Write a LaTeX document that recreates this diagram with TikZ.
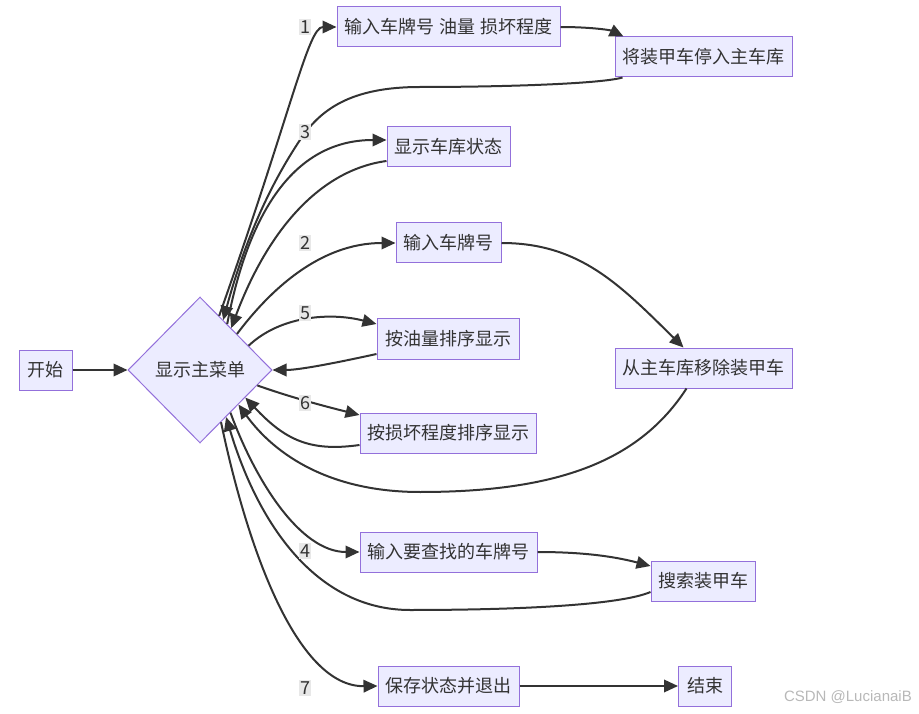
\documentclass[tikz,border=0pt]{standalone}
\usepackage{fontspec}
\setmainfont{Noto Sans CJK SC}
\newfontfamily\wmfont{Liberation Sans}
\usetikzlibrary{shapes.geometric,arrows.meta,calc}
\definecolor{boxfill}{HTML}{ECECFF}
\definecolor{boxline}{HTML}{9370DB}
\definecolor{ink}{HTML}{333333}
\definecolor{lblbg}{HTML}{E8E8E8}
\begin{document}
\begin{tikzpicture}[x=1pt,y=-1pt,
  box/.style={draw=boxline, fill=boxfill, line width=1pt, minimum height=40pt, inner sep=0pt, text=ink, font=\fontsize{18}{21}\selectfont},
  decide/.style={diamond, draw=boxline, fill=boxfill, line width=1pt, minimum width=144pt, minimum height=146pt, inner sep=0pt, text=ink, font=\fontsize{18}{21}\selectfont},
  arr/.style={draw=ink, line width=2pt, -{Triangle[length=14pt,width=12.5pt]}},
  lbl/.style={fill=lblbg, text=ink, inner sep=1.5pt, font=\fontsize{18}{20}\selectfont}]
\useasboundingbox (0,0) rectangle (919,714);

% nodes
\node[box, minimum width=53pt] (start) at (45.5,370) {开始};
\node[decide] (menu) at (200,370) {显示主菜单};
\node[box, minimum width=223pt] (inpA) at (448.5,27) {输入车牌号\hspace{0.3em}油量\hspace{0.3em}损坏程度};
\node[box, minimum width=177pt] (park) at (703.5,57) {将装甲车停入主车库};
\node[box, minimum width=123pt] (status) at (448.5,147) {显示车库状态};
\node[box, minimum width=105pt] (inpB) at (448.5,243) {输入车牌号};
\node[box, minimum width=142pt] (oil) at (448,339) {按油量排序显示};
\node[box, minimum width=176pt] (dmg) at (448,433) {按损坏程度排序显示};
\node[box, minimum width=177pt] (remove) at (703.5,368) {从主车库移除装甲车};
\node[box, minimum width=177pt] (inpC) at (448.5,552) {输入要查找的车牌号};
\node[box, minimum width=104pt] (search) at (703,581) {搜索装甲车};
\node[box, minimum width=141pt] (save) at (448.5,686) {保存状态并退出};
\node[box, minimum width=53pt] (finish) at (705,686) {结束};

% attachment points on the diamond
\coordinate (u1) at ($(menu.north)!0.264!(menu.east)$);
\coordinate (u2) at ($(menu.north)!0.32!(menu.east)$);
\coordinate (u3) at ($(menu.north)!0.375!(menu.east)$);
\coordinate (u4) at ($(menu.north)!0.43!(menu.east)$);
\coordinate (u5) at ($(menu.north)!0.51!(menu.east)$);
\coordinate (u6) at ($(menu.north)!0.67!(menu.east)$);
\coordinate (d1) at ($(menu.east)!0.21!(menu.south)$);
\coordinate (d2) at ($(menu.east)!0.375!(menu.south)$);
\coordinate (d3) at ($(menu.east)!0.47!(menu.south)$);
\coordinate (d4) at ($(menu.east)!0.58!(menu.south)$);
\coordinate (d5) at ($(menu.east)!0.64!(menu.south)$);
\coordinate (d6) at ($(menu.east)!0.71!(menu.south)$);

% connectors
\draw[arr] (start.east) -- (menu.west);
\draw[arr] (u1) .. controls (292,110) and (308,27) .. (inpA.west);
\draw[arr] (inpA.east) .. controls (590,27) and (610,30) .. ([xshift=9pt]park.north west);
\draw[arr] ([xshift=8pt]park.south west) .. controls (600,84) and (500,87) .. (420,87)
   .. controls (350,87) and (320,110) .. (300,140)
   .. controls (270,185) and (245,240) .. (u2);
\draw[arr] (u3) .. controls (245,230) and (285,140) .. ([yshift=7pt]status.west);
\draw[arr] ([yshift=-14pt]status.west) .. controls (320,170) and (268,230) .. (u4);
\draw[arr] (u5) .. controls (270,290) and (320,243) .. (inpB.west);
\draw[arr] (inpB.east) .. controls (580,243) and (620,285) .. ([xshift=-20pt]remove.north);
\draw[arr] ([xshift=-17pt]remove.south) .. controls (640,460) and (560,492) .. (420,492)
   .. controls (330,492) and (275,455) .. (d3);
\draw[arr] (u6) .. controls (280,316) and (330,312) .. ([yshift=15pt]oil.west);
\draw[arr] ([yshift=-15pt]oil.west) .. controls (340,362) and (300,370) .. (menu.east);
\draw[arr] (d1) .. controls (290,397) and (320,405) .. ([yshift=18pt]dmg.west);
\draw[arr] ([yshift=-12pt]dmg.west) .. controls (310,452) and (285,440) .. (d2);
\draw[arr] (d4) .. controls (255,480) and (300,552) .. (inpC.west);
\draw[arr] (inpC.east) .. controls (590,552) and (620,558) .. ([yshift=15pt]search.west);
\draw[arr] ([yshift=-11pt]search.west) .. controls (620,605) and (520,610) .. (410,610)
   .. controls (320,610) and (260,530) .. (d5);
\draw[arr] (d6) .. controls (250,560) and (300,687) .. (save.west);
\draw[arr] (save.east) -- (finish.west);

% edge labels
\node[lbl] (l1) at (305,27) {1};
\node[lbl] (l3) at (305,132) {3};
\node[lbl] (l2) at (305,243) {2};
\node[lbl] (l5) at (305,313) {5};
\node[lbl] (l6) at (305,403) {6};
\node[lbl] (l4) at (305,551) {4};
\node[lbl] (l7) at (305,688) {7};

% watermark
\node[anchor=east, text=black!28, font=\wmfont\fontsize{15}{17}\selectfont, inner sep=0pt] (wm) at (912,697) {CSDN @LucianaiB};
\end{tikzpicture}
\end{document}
